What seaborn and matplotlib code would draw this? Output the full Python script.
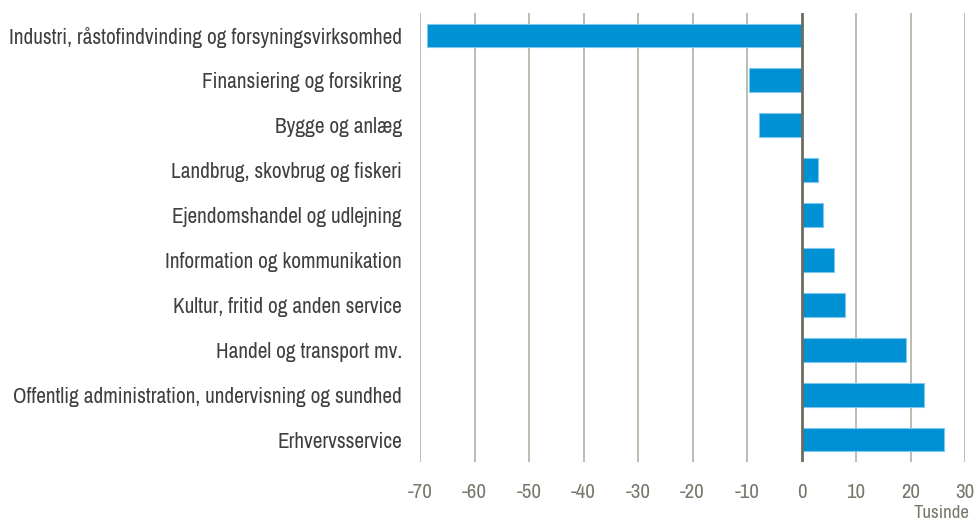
import pandas as pd
import seaborn as sns
import matplotlib.pyplot as plt

brancher = [
    "Industri, råstofindvinding og forsyningsvirksomhed",
    "Finansiering og forsikring",
    "Bygge og anlæg",
    "Landbrug, skovbrug og fiskeri",
    "Ejendomshandel og udlejning",
    "Information og kommunikation",
    "Kultur, fritid og anden service",
    "Handel og transport mv.",
    "Offentlig administration, undervisning og sundhed",
    "Erhvervsservice",
]
aendring = [-68.8, -9.6, -7.8, 3.0, 3.9, 6.0, 7.9, 19.2, 22.4, 26.2]
xticks = [-70, -60, -50, -40, -30, -20, -10, 0, 10, 20, 30]

df = pd.DataFrame({"branche": brancher, "tusinde": aendring})

sns.set_style("white")
plt.rcParams["font.family"] = ["Archivo Narrow", "Liberation Sans", "DejaVu Sans"]

fig = plt.figure(figsize=(9.77, 5.22), dpi=100)
ax = fig.add_axes([420 / 977, 1 - 462 / 522, 545 / 977, 449 / 522])

sns.barplot(data=df, x="tusinde", y="branche", orient="h", color="#0090d4",
            edgecolor="#7cc8ee", linewidth=0.8, width=0.53, saturation=1, ax=ax, zorder=3)

ax.set_xlim(-70, 30)
ax.set_ylim(9.5, -0.5)
ax.set_xticks(xticks)
ax.set_xticklabels([str(t) for t in xticks])
for t in xticks:
    if t == 0:
        ax.axvline(t, color="#6e6c60", lw=2, zorder=4)
    else:
        ax.axvline(t, color="#b8b6aa", lw=1.3, zorder=1)
for s in ax.spines.values():
    s.set_visible(False)
ax.tick_params(axis="x", length=0, pad=15, labelsize=15, colors="#77776b")
ax.tick_params(axis="y", length=0, pad=13, labelsize=15.3, colors="#3f3f3f")
ax.set_xlabel("")
ax.set_ylabel("")
fig.text(942 / 977, 1 / 522, "Tusinde", ha="center", va="bottom", fontsize=13.5, color="#77776b")

fig.savefig("out.png", dpi=100)
